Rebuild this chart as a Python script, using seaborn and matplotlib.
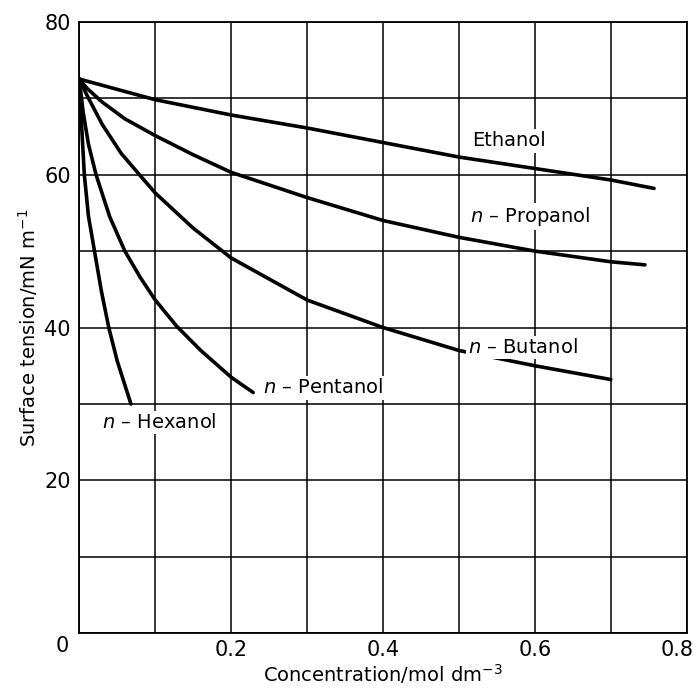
import matplotlib
matplotlib.use("Agg")
import matplotlib.pyplot as plt
import matplotlib.transforms as mtransforms
import seaborn as sns

# surface tension of aqueous alcohol solutions
ethanol_x = [0, 0.1, 0.2, 0.3, 0.4, 0.5, 0.6, 0.7, 0.757]
ethanol_y = [72.5, 69.8, 67.8, 66.1, 64.2, 62.3, 60.8, 59.3, 58.2]

propanol_x = [0, 0.01, 0.03, 0.06, 0.1, 0.15, 0.2, 0.3, 0.4, 0.5, 0.6, 0.7, 0.745]
propanol_y = [72.5, 71.3, 69.5, 67.3, 65.1, 62.6, 60.3, 57.0, 54.0, 51.8, 50.0, 48.6, 48.2]

butanol_x = [0, 0.01, 0.03, 0.055, 0.08, 0.1, 0.15, 0.2, 0.3, 0.4, 0.5, 0.6, 0.7]
butanol_y = [72.5, 70.4, 66.6, 62.8, 59.9, 57.6, 53.0, 49.1, 43.6, 40.0, 37.0, 35.0, 33.2]

pentanol_x = [0, 0.005, 0.012, 0.022, 0.04, 0.06, 0.08, 0.1, 0.128, 0.16, 0.2, 0.229]
pentanol_y = [72.5, 68.2, 64.0, 60.0, 54.5, 50.0, 46.6, 43.6, 40.2, 37.0, 33.5, 31.5]

hexanol_x = [0, 0.002, 0.0066, 0.012, 0.02, 0.029, 0.0388, 0.05, 0.068]
hexanol_y = [72.5, 68.3, 60.0, 54.6, 50.0, 44.8, 40.0, 35.6, 30.0]

labels = ["Ethanol", "$n$ – Propanol", "$n$ – Butanol", "$n$ – Pentanol", "$n$ – Hexanol"]
label_x = [0.517, 0.515, 0.512, 0.242, 0.0295]
label_y = [64.4, 54.5, 37.4, 32.1, 27.6]

sns.set_style("white")
plt.rcParams['font.family'] = ['DejaVu Sans']
plt.rcParams['text.color'] = 'black'
plt.rcParams['axes.labelcolor'] = 'black'
plt.rcParams['xtick.color'] = 'black'
plt.rcParams['ytick.color'] = 'black'

fig = plt.figure(figsize=(7, 6.94), dpi=100)
ax = fig.add_axes([0.1133, 0.0874, 0.981 - 0.1133, 0.9687 - 0.0874])

for xs, ys in [(ethanol_x, ethanol_y), (propanol_x, propanol_y), (butanol_x, butanol_y),
               (pentanol_x, pentanol_y), (hexanol_x, hexanol_y)]:
    sns.lineplot(x=xs, y=ys, color="black", linewidth=2.6, sort=False,
                 estimator=None, ax=ax, zorder=3)

for t, lx, ly in zip(labels, label_x, label_y):
    ax.text(lx, ly, t, fontsize=14, va="center", ha="left", zorder=4,
            bbox=dict(facecolor="white", edgecolor="none", pad=1.5))

ax.set_xlim(0, 0.8)
ax.set_ylim(0, 80)
xt = [i / 10 for i in range(9)]
yt = list(range(0, 81, 10))
ax.set_xticks(xt)
ax.set_xticklabels(["" if (i % 2 or i == 0) else f"{v:.1f}" for i, v in enumerate(xt)])
ax.set_yticks(yt)
ax.set_yticklabels(["" if (v % 20 or v == 0) else str(v) for v in yt])
ax.tick_params(length=0, labelsize=15)
ax.tick_params(axis="x", pad=5)
ax.tick_params(axis="y", pad=6)
ax.grid(True, color="black", linewidth=1.1)
ax.set_axisbelow(True)
for s in ax.spines.values():
    s.set_color("black")
    s.set_linewidth(1.3)

# the last x label sits a little left of its tick, as in the original
last = ax.get_xticklabels()[-1]
last.set_transform(last.get_transform() + mtransforms.ScaledTranslation(-10 / 100, 0, fig.dpi_scale_trans))

# shared origin label
ax.text(-0.022, -1.6, "0", fontsize=15, ha="center", va="center", clip_on=False)

ax.set_xlabel("Concentration/mol dm$^{-3}$", fontsize=14, labelpad=1)
ax.set_ylabel("Surface tension/mN m$^{-1}$", fontsize=14, labelpad=3)

fig.savefig("out.png", dpi=100)
